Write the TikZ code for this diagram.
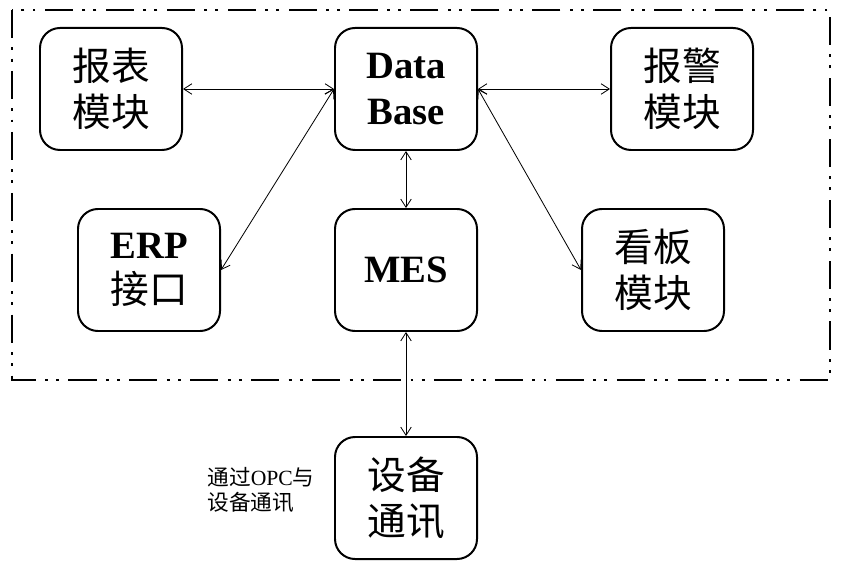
\documentclass[tikz,border=0pt]{standalone}
\usepackage{fontspec}
\setmainfont{Liberation Serif}
\newfontfamily\cjk{Noto Sans CJK SC}
\usepackage{tikz}
\usetikzlibrary{arrows.meta,positioning}

\begin{document}
\begin{tikzpicture}
	[x=0.03cm,y=-0.03cm,
	modulo/.style={rectangle,draw=black,line width=1.7pt,rounded corners=0.6cm,
		minimum width=4.26cm,minimum height=3.66cm,align=center,
		font=\fontsize{33}{39}\selectfont},
	flecha/.style={black,line width=0.7pt,{Straight Barb[length=7pt,width=9pt]}-{Straight Barb[length=7pt,width=9pt]}},
	marco/.style={black,line width=2.5pt,
		dash pattern=on 24pt off 8pt on 2.5pt off 7pt on 2.5pt off 8pt}]
\useasboundingbox (0,0) rectangle (846,570);
%marco del sistema
\draw[marco] (12,10) rectangle (830,380);
%primera fila
\node (baobiao) at (111,89) [modulo] {\cjk 报表\\\cjk 模块};
\node (db) at (406,89) [modulo] {\textbf{Data}\\\textbf{Base}};
\node (baojing) at (682,89) [modulo] {\cjk 报警\\\cjk 模块};
%segunda fila
\node (erp) at (149,270) [modulo] {\textbf{ERP}\\\cjk 接口};
\node (mes) at (406,270) [modulo] {\textbf{MES}};
\node (kanban) at (653,270) [modulo] {\cjk 看板\\\cjk 模块};
%equipo
\node (shebei) at (406,498) [modulo] {\cjk 设备\\\cjk 通讯};
\node (opc) at (261,490) [align=left,font=\fontsize{18.5}{21.5}\selectfont]
	{{\cjk 通过}OPC{\cjk 与}\\\cjk 设备通讯};
%flechas
\draw[flecha] (baobiao.east) -- (db.west);
\draw[flecha] (db.east) -- (baojing.west);
\draw[flecha] (db.west) -- (erp.east);
\draw[flecha] (db.east) -- (kanban.west);
\draw[flecha] (db.south) -- (mes.north);
\draw[flecha] (mes.south) -- (shebei.north);
\end{tikzpicture}
\end{document}
